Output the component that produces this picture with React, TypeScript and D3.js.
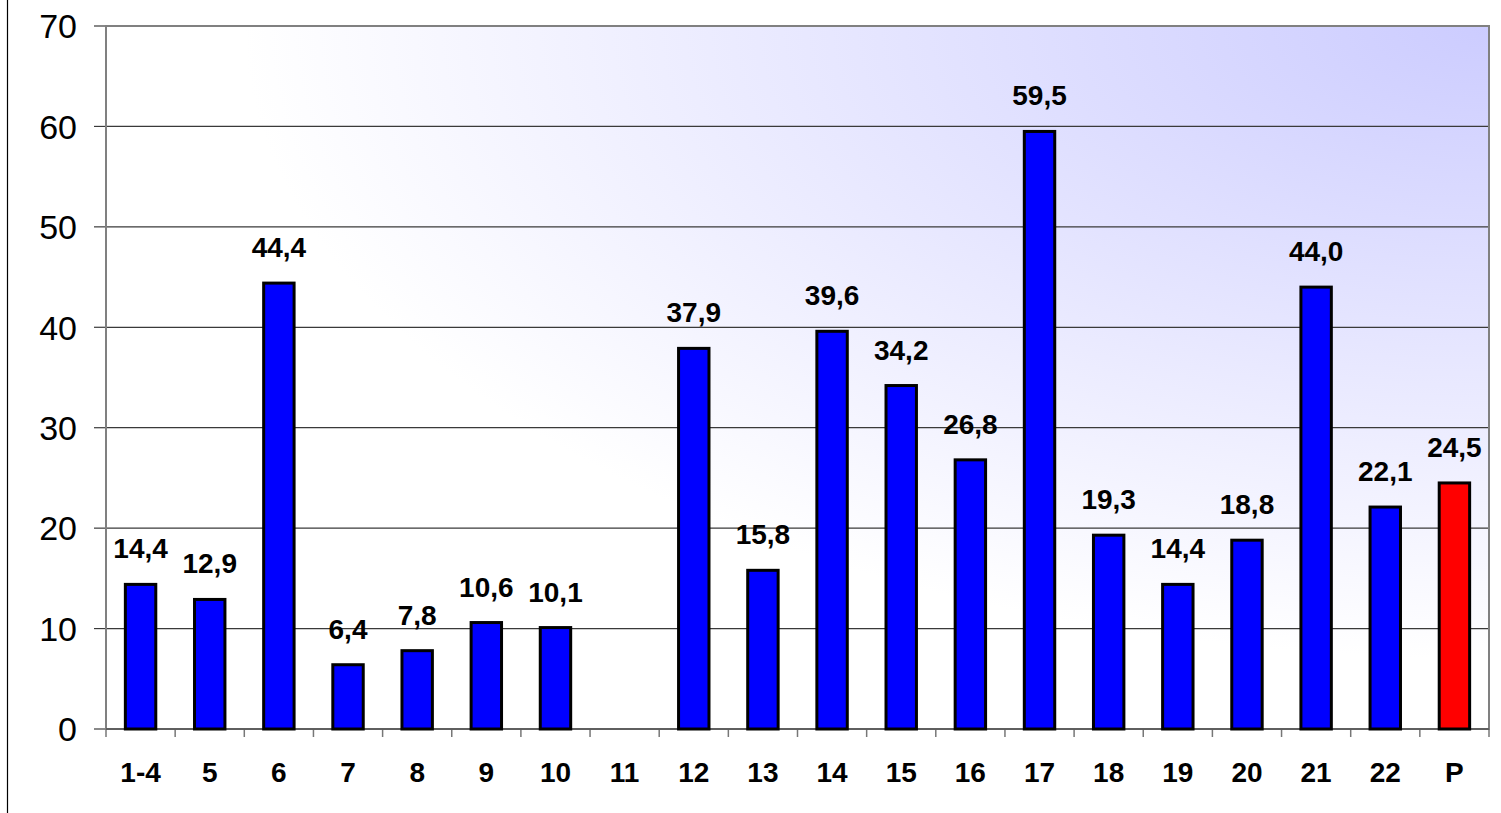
import React, { useEffect } from "react";
import * as d3 from "d3";

const categories = ["1-4", "5", "6", "7", "8", "9", "10", "11", "12", "13", "14", "15", "16", "17", "18", "19", "20", "21", "22", "P"];
const values: (number | null)[] = [14.4, 12.9, 44.4, 6.4, 7.8, 10.6, 10.1, null, 37.9, 15.8, 39.6, 34.2, 26.8, 59.5, 19.3, 14.4, 18.8, 44.0, 22.1, 24.5];
const highlight = ["P"];
const yTicks = [0, 10, 20, 30, 40, 50, 60, 70];

const W = 1501;
const H = 813;
const left = 106;
const right = 1489;
const top = 26;
const bottom = 729;
const FONT = "'Liberation Sans', Arial, Helvetica, sans-serif";

export default function App() {
  useEffect(() => {
    document.body.style.margin = "0";
    document.body.style.overflow = "hidden";
  }, []);

  const x = d3.scaleBand<string>().domain(categories).range([left, right]).padding(0);
  const y = d3.scaleLinear().domain([0, 70]).range([bottom, top]);
  const bw = x.bandwidth();
  const barW = bw * 0.44;
  const fmt = (v: number) => v.toFixed(1).replace(".", ",");

  return (
    <svg width={W} height={H} style={{ position: "absolute", left: 0, top: 0, background: "#fff" }}>
      <defs>
        <radialGradient id="bg" cx="1" cy="0" r="0.9" fx="1" fy="0">
          <stop offset="0" stopColor="#ccccff" />
          <stop offset="1" stopColor="#ffffff" />
        </radialGradient>
      </defs>
      <line x1={7.5} x2={7.5} y1={0} y2={H} stroke="#000" strokeWidth={1.2} />
      <rect x={left} y={top} width={right - left} height={bottom - top} fill="url(#bg)" />
      {yTicks.map((t) => (
        <g key={t}>
          <line x1={left} x2={right} y1={y(t)} y2={y(t)} stroke="#3a3a3a" strokeWidth={1.2} />
          <line x1={94} x2={left} y1={y(t)} y2={y(t)} stroke="#3a3a3a" strokeWidth={1.2} />
          <text x={77} y={y(t)} dy="0.36em" textAnchor="end" fontFamily={FONT} fontSize={34} fill="#000">
            {t}
          </text>
        </g>
      ))}
      <rect x={left} y={top} width={right - left} height={bottom - top} fill="none" stroke="#808080" strokeWidth={2} />
      {categories.map((c) => (
        <line key={"t" + c} x1={x(c)!} x2={x(c)!} y1={bottom} y2={bottom + 8} stroke="#777" strokeWidth={1.5} />
      ))}
      <line x1={right} x2={right} y1={bottom} y2={bottom + 8} stroke="#777" strokeWidth={1.5} />
      <line x1={left} x2={right} y1={bottom} y2={bottom} stroke="#555" strokeWidth={1.5} />
      {categories.map((c, i) => {
        const v = values[i];
        if (v === null) return null;
        const cx = x(c)! + bw / 2;
        return (
          <g key={"b" + c}>
            <rect
              x={cx - barW / 2}
              y={y(v)}
              width={barW}
              height={bottom - y(v)}
              fill={highlight.includes(c) ? "#ff0000" : "#0000ff"}
              stroke="#000"
              strokeWidth={3}
            />
            <text x={cx} y={y(v) - 26} textAnchor="middle" fontFamily={FONT} fontWeight="bold" fontSize={28} fill="#000">
              {fmt(v)}
            </text>
          </g>
        );
      })}
      {categories.map((c) => (
        <text key={"l" + c} x={x(c)! + bw / 2} y={782} textAnchor="middle" fontFamily={FONT} fontWeight="bold" fontSize={28} fill="#000">
          {c}
        </text>
      ))}
    </svg>
  );
}
